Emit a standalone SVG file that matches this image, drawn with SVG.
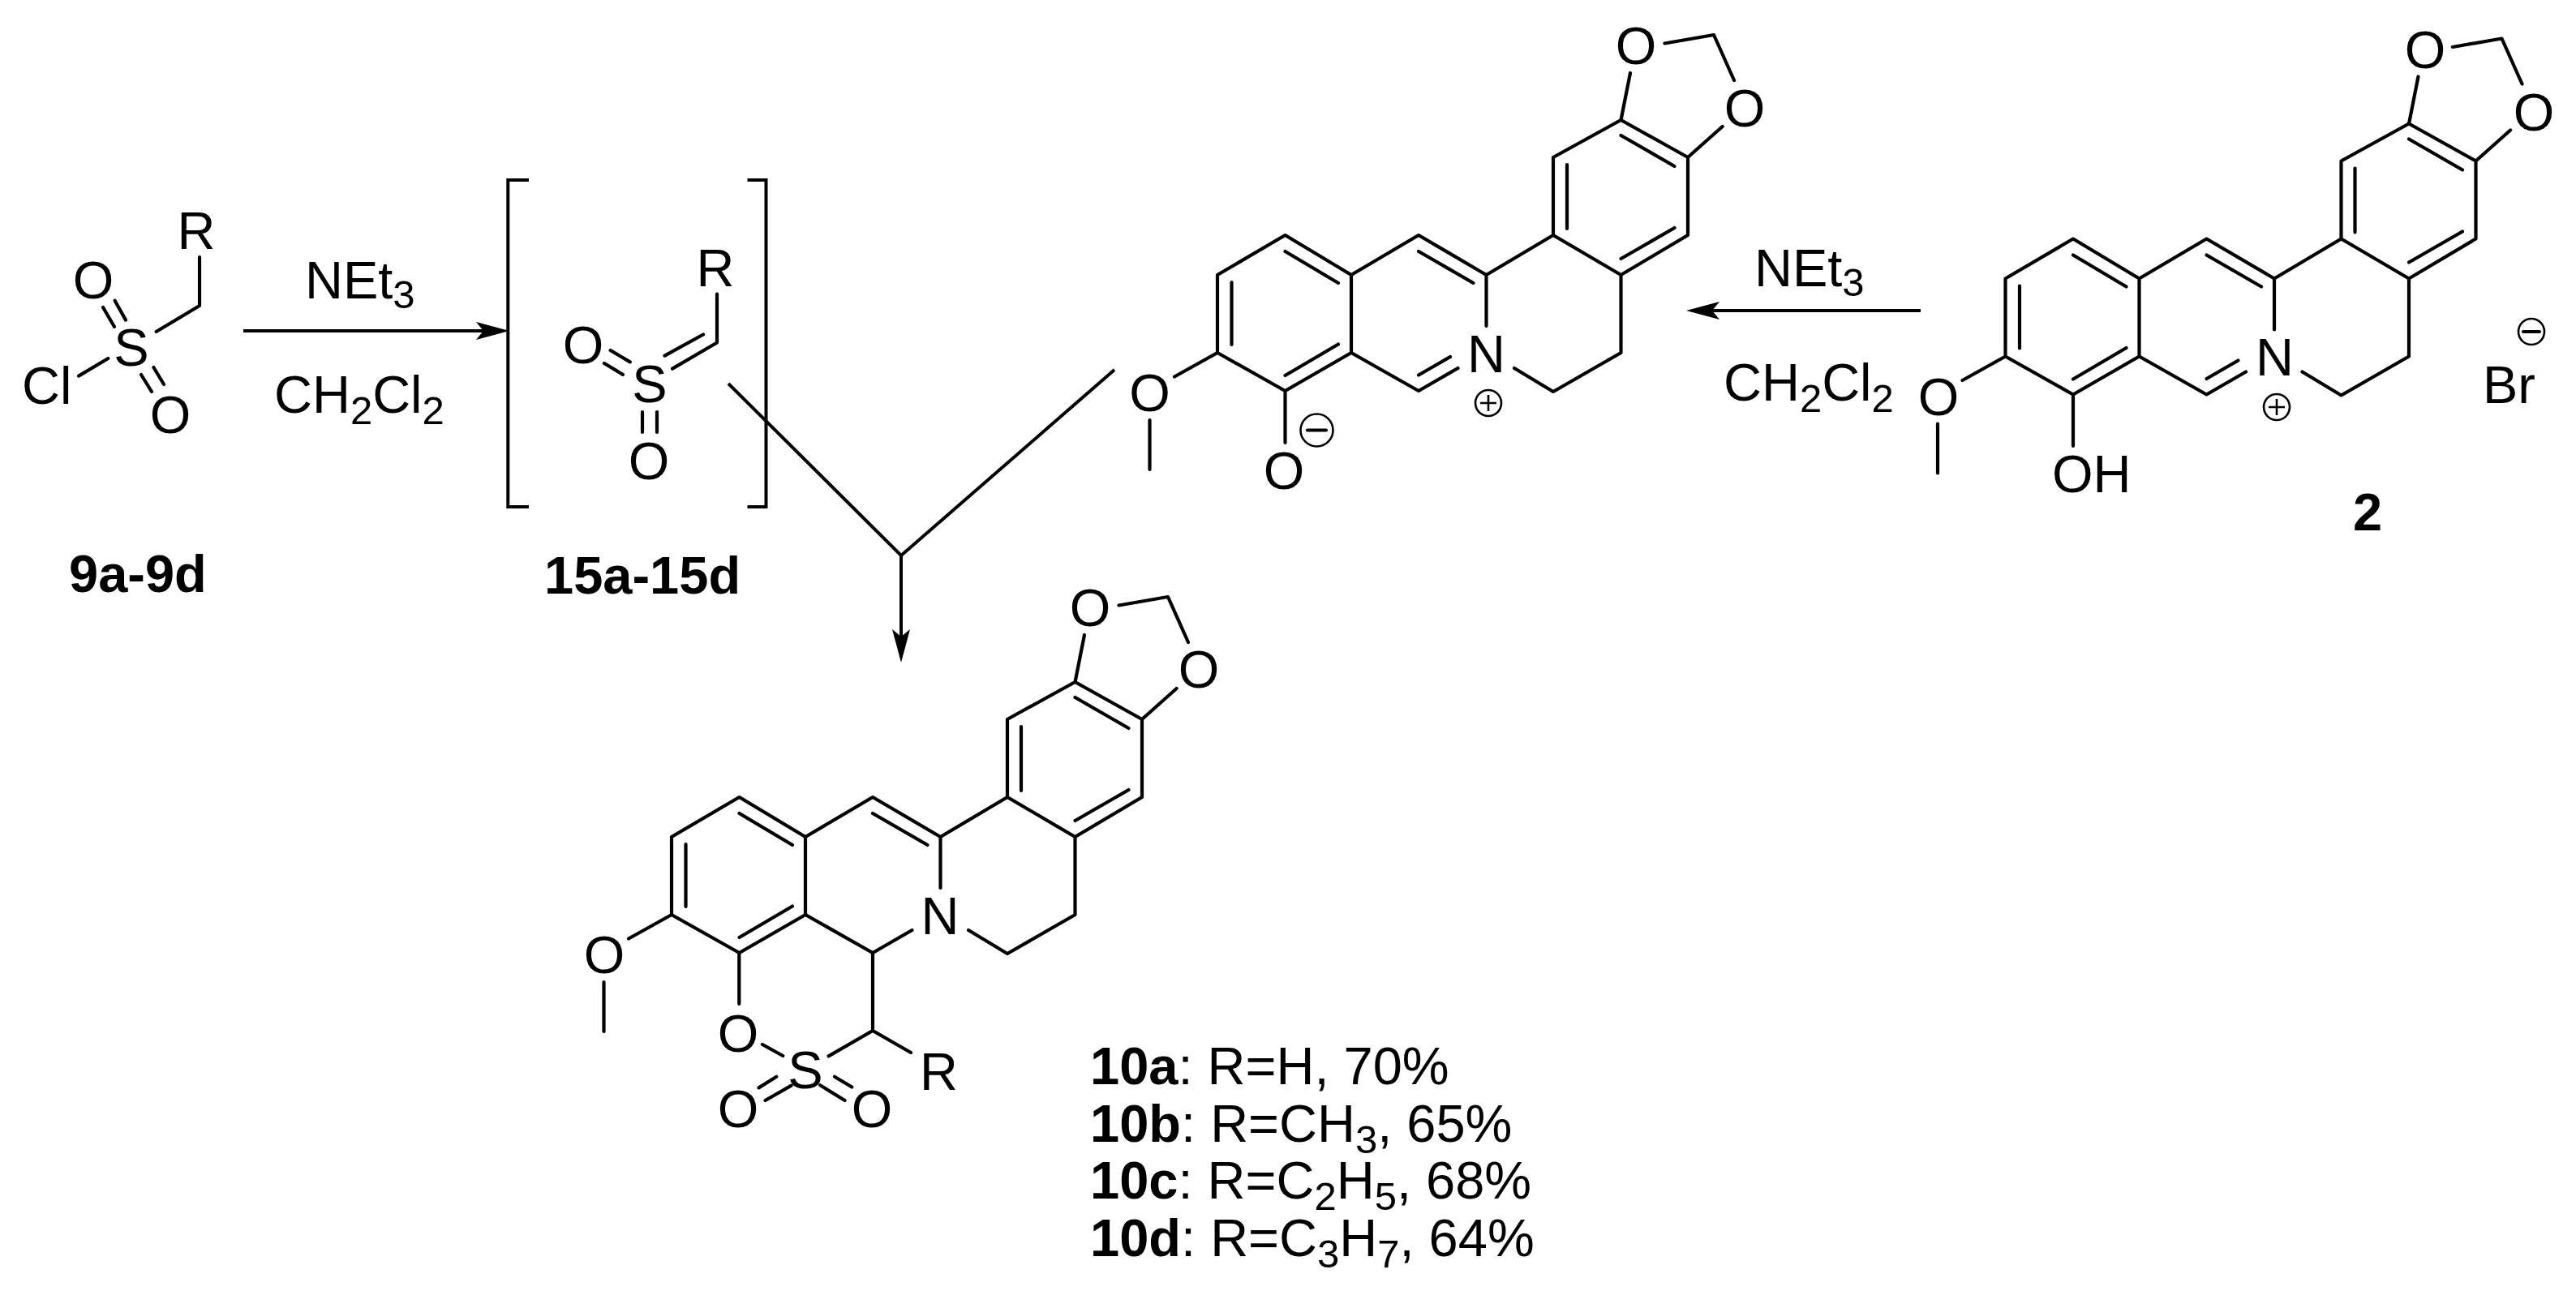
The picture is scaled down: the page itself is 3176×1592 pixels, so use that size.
<svg xmlns="http://www.w3.org/2000/svg" width="3176" height="1592" viewBox="0 0 3176 1592">
<style>
.b{fill:none;stroke:#000;stroke-width:4.2;stroke-linecap:round;stroke-linejoin:round}
.c{fill:none;stroke:#000;stroke-width:4;stroke-linecap:butt}
.t{font-family:"Liberation Sans",Arial,sans-serif;font-size:65px;fill:#000}
.m{text-anchor:middle}
.l{font-family:"Liberation Sans",Arial,sans-serif;font-size:65px;fill:#000}
.h{font-weight:bold}
.r{font-size:49px}
.q{fill:none;stroke:#000;stroke-width:2.6}
</style>
<defs>
<marker id="ah" markerUnits="userSpaceOnUse" markerWidth="44" markerHeight="26" refX="10" refY="11" orient="auto"><path d="M0,0 L41,11 L0,22 L9,11 Z" fill="#000"/></marker>
<path id="core" class="b" d="M1584.5,290 L1666,339 L1666,435 L1584.5,482 L1501,435 L1501,339 Z M1666,339 L1749,290 L1832.5,339 L1915,290 L1998.5,339 L1998.5,435 L1915,483 L1867,454 M1832.5,339 L1832.5,402 M1915,290 L1915,194 L1998.5,148 L2081,194 L2081,290 L1998.5,339 M1666,435 L1749,482 L1797.5,454 M1998.5,148 L2010,90 M2052.4,53.5 L2113,43 L2138,99 M2123.6,156 L2081,194 M1501,435 L1448,464.5 M1417.5,518 L1417.5,579 M1584.5,310 L1650,349 M1518.5,348 L1518.5,425 M1650,424.5 L1584.5,463 M1749,310 L1816.5,349 M1932,203 L1932,282 M1998.5,167 L2064.5,205 M2064.5,281 L1998.5,319"/>
<path id="imine" class="b" d="M1749,462.5 L1788,440"/>
</defs>
<rect width="3176" height="1592" fill="#fff"/>

<g id="connectors">
<line class="c" x1="300" y1="408" x2="597" y2="408" marker-end="url(#ah)"/>
<line class="c" x1="2368" y1="383" x2="2110" y2="383" marker-end="url(#ah)"/>
<path class="c" d="M898,473 L1111,685 L1374,456"/>
<line class="c" x1="1111" y1="685" x2="1111" y2="786" marker-end="url(#ah)"/>
</g>

<g id="reagents-left">
<text class="t" x="376" y="368">NEt<tspan class="r" dy="12">3</tspan></text>
<text class="t" x="338" y="509">CH<tspan class="r" dy="14">2</tspan><tspan dy="-14">Cl</tspan><tspan class="r" dy="14">2</tspan></text>
</g>
<g id="reagents-right">
<text class="t" x="2163" y="353">NEt<tspan class="r" dy="12">3</tspan></text>
<text class="t" x="2125" y="494">CH<tspan class="r" dy="14">2</tspan><tspan dy="-14">Cl</tspan><tspan class="r" dy="14">2</tspan></text>
</g>

<g id="compound-9">
<path class="b" d="M246,317 L246,377 L192.6,409 M127,379 L141,403 M141.6,370.7 L155,394.6 M174,462 L187,483 M189.4,453 L202,474 M97,463.6 L133.3,442"/>
<text class="t m" x="242" y="307">R</text>
<text class="t m" x="162" y="451">S</text>
<text class="t m" x="115" y="368">O</text>
<text class="t m" x="210" y="534">O</text>
<text class="t" x="27" y="498">Cl</text>
<text class="l h" x="85" y="730">9a-9d</text>
</g>

<g id="compound-15">
<path class="c" d="M652,222 L626.3,222 L626.3,625 L652,625 M921.5,222 L944.5,222 L944.5,625 L921.5,625"/>
<path class="b" d="M884,362.5 L884,422.5 L829,454.6 M867,412.5 L819.5,438.6 M752.6,432 L776.8,446.4 M745,448 L768,462 M792,508 L792,533 M810,508 L810,533"/>
<text class="t m" x="882" y="353">R</text>
<text class="t m" x="801" y="496">S</text>
<text class="t m" x="719" y="448">O</text>
<text class="t m" x="800" y="591">O</text>
<text class="l h" x="671" y="732">15a-15d</text>
</g>

<g id="compound-betaine">
<use href="#core"/>
<use href="#imine"/>
<path class="b" d="M1584.5,482 L1584.5,546"/>
<text class="t m" x="2017" y="79">O</text>
<text class="t m" x="2151" y="156">O</text>
<text class="t m" x="1832.5" y="459">N</text>
<text class="t m" x="1417.5" y="507">O</text>
<text class="t m" x="1583" y="603">O</text>
<circle class="q" cx="1835" cy="497" r="16"/>
<path class="q" d="M1825,497 H1845 M1835,487 V507"/>
<circle class="q" cx="1623.5" cy="530.5" r="20"/>
<path class="b" d="M1612,530.5 H1635"/>
</g>

<g id="compound-2">
<use href="#core" transform="translate(971.5,4.5)"/>
<use href="#imine" transform="translate(971.5,4.5)"/>
<path class="b" d="M2556,487 L2556,550"/>
<text class="t m" x="2990" y="84">O</text>
<text class="t m" x="3124" y="161">O</text>
<text class="t m" x="2804.5" y="463">N</text>
<text class="t m" x="2390" y="512">O</text>
<text class="t" x="2530" y="607">OH</text>
<text class="t" x="3061" y="497">Br</text>
<circle class="q" cx="2807" cy="502" r="16"/>
<path class="q" d="M2797,502 H2817 M2807,492 V512"/>
<circle class="q" cx="3121" cy="409" r="16"/>
<path class="b" d="M3111,409 H3131"/>
<text class="l h m" x="2919" y="654">2</text>
</g>

<g id="compound-10">
<use href="#core" transform="translate(-673,693)"/>
<path class="b" d="M911.3,1175 L911.3,1238 M1076,1175 L1076,1271 L1021.6,1302.4 M1076,1271 L1123,1298 M940,1288 L965.3,1302 M935.5,1341.4 L957.3,1327.7 M943.5,1357 L975.6,1338.6 M1029,1327.7 L1050.3,1340.5 M1011.2,1338.2 L1041.6,1357"/>
<text class="t m" x="1344" y="772">O</text>
<text class="t m" x="1478" y="848">O</text>
<text class="t m" x="1159" y="1152">N</text>
<text class="t m" x="745" y="1200">O</text>
<text class="t m" x="910" y="1297">O</text>
<text class="t m" x="993" y="1342">S</text>
<text class="t m" x="910" y="1390">O</text>
<text class="t m" x="1075" y="1390">O</text>
<text class="t" x="1134" y="1344">R</text>
</g>

<g id="yields">
<text class="l" x="1344" y="1337"><tspan class="h">10a</tspan>: R=H, 70%</text>
<text class="l" x="1344" y="1408"><tspan class="h">10b</tspan>: R=CH<tspan class="r" dy="14">3</tspan><tspan dy="-14">, 65%</tspan></text>
<text class="l" x="1344" y="1478"><tspan class="h">10c</tspan>: R=C<tspan class="r" dy="14">2</tspan><tspan dy="-14">H</tspan><tspan class="r" dy="14">5</tspan><tspan dy="-14">, 68%</tspan></text>
<text class="l" x="1344" y="1549"><tspan class="h">10d</tspan>: R=C<tspan class="r" dy="14">3</tspan><tspan dy="-14">H</tspan><tspan class="r" dy="14">7</tspan><tspan dy="-14">, 64%</tspan></text>
</g>
</svg>
